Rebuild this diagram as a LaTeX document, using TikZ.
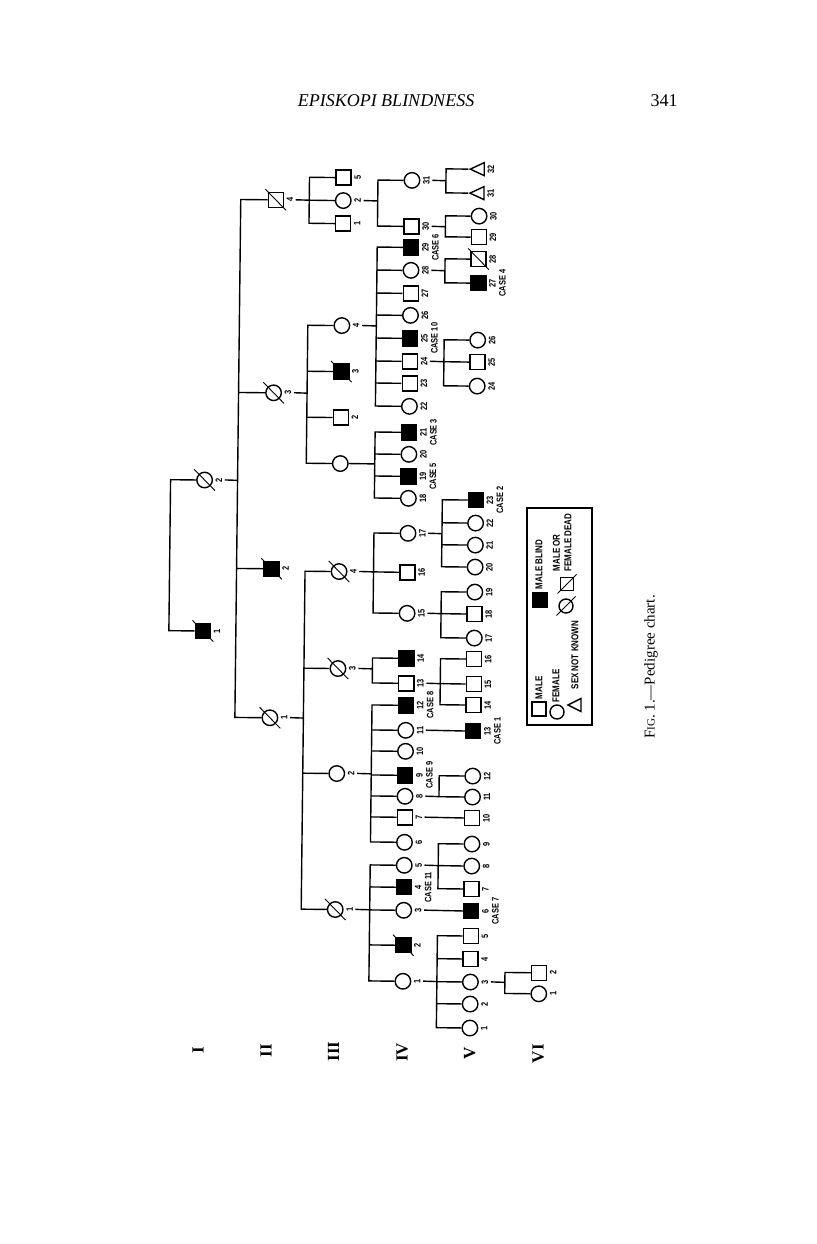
\documentclass[tikz,border=0pt]{standalone}
\usepackage{fontspec}
\setmainfont{Liberation Serif}
\newfontfamily\lblfont[FakeStretch=0.8]{Liberation Sans}
\usetikzlibrary{shapes.geometric, positioning, calc}

\begin{document}
\begin{tikzpicture}[
    x=1pt, y=-1pt,
    line width=1.4pt,
    person/.style={draw, inner sep=0pt, line width=1.4pt},
    male/.style={person, rectangle, minimum size=15pt},
    female/.style={person, circle, minimum size=15.5pt},
    blind/.style={male, fill=black},
    unknown/.style={person, isosceles triangle, isosceles triangle stretches,
        shape border rotate=180, minimum width=13pt, minimum height=14pt},
    slashline/.style={line width=0.9pt},
    dead/.style={append after command={
        ($(\tikzlastnode.center)+(-#1,-#1)$) edge[slashline] ($(\tikzlastnode.center)+(#1,#1)$)}},
    dead/.default=10.5,
    deadleg/.style={append after command={
        ($(\tikzlastnode.center)+(-#1,#1)$) edge[slashline] ($(\tikzlastnode.center)+(#1,-#1)$)}},
    deadleg/.default=10,
    num/.style={rotate=90, anchor=north, inner sep=2pt, align=center,
        font=\lblfont\bfseries\fontsize{9.3}{10}\selectfont},
    gen/.style={rotate=90, font=\bfseries\fontsize{17}{17}\selectfont},
    legtext/.style={rotate=90, anchor=mid west, inner sep=0pt, align=left,
        font=\lblfont\bfseries\fontsize{10}{11.5}\selectfont}
]
\useasboundingbox (0,0) rectangle (816,1244);

% page header
\node[font=\itshape\fontsize{18}{20}\selectfont] (title) at (386,101) {EPISKOPI BLINDNESS};
\node[font=\fontsize{18}{20}\selectfont] (pageno) at (664,101) {341};

\begin{scope}[rotate around={-0.65:(380,180)}]

% generation numerals
\node[gen] (gI)   at (208,1052)   {I};
\node[gen] (gII)  at (276,1052)   {II};
\node[gen] (gIII) at (343.5,1052) {III};
\node[gen] (gIV)  at (412,1052)   {IV};
\node[gen] (gV)   at (479.5,1052) {V};
\node[gen] (gVI)  at (548,1052)   {VI};

% generation I
\node[female, dead] (i2) at (208,482) {};
\node[num] (ni2) at (i2.east) {2};
\node[blind, dead] (i1) at (208,633) {};
\node[num] (ni1) at (i1.east) {1};
\coordinate (m-i) at (174,557);
\draw (i2.west) -| (m-i) |- (i1.west);

% generation II
\node[male, dead] (ii4) at (276,201) {};
\node[num] (nii4) at (ii4.east) {4};
\node[female, dead] (ii3) at (276,394) {};
\node[num] (nii3) at (ii3.east) {3};
\node[blind, dead] (ii2) at (276,570) {};
\node[num] (nii2) at (ii2.east) {2};
\node[female, dead] (ii1) at (276,719) {};
\node[num] (nii1) at (ii1.east) {1};
\coordinate (s-i2) at (241,482);
\draw (ni2.south) -- (s-i2);
\draw (ii4.west) -| (s-i2) |- (ii1.west);
\foreach \k in {ii3,ii2} \draw (\k.west) -- (\k.west -| s-i2);

% generation III
\node[male] (iiia5) at (343.5,178) {};
\node[num] (niiia5) at (iiia5.east) {5};
\node[female] (iiia2) at (343.5,201) {};
\node[num] (niiia2) at (iiia2.east) {2};
\node[male] (iiia1) at (343.5,224) {};
\node[num] (niiia1) at (iiia1.east) {1};
\coordinate (s-ii4) at (309.5,201);
\draw (nii4.south) -- (s-ii4);
\draw (iiia5.west) -| (s-ii4) |- (iiia1.west);
\draw (iiia2.west) -- (s-ii4);

\node[female] (iiib4) at (343.5,326) {};
\node[num] (niiib4) at (iiib4.east) {4};
\node[blind, dead] (iiib3) at (343.5,372) {};
\node[num] (niiib3) at (iiib3.east) {3};
\node[male] (iiib2) at (343.5,418) {};
\node[num] (niiib2) at (iiib2.east) {2};
\node[female] (iiib0) at (343.5,464) {};
\coordinate (s-ii3) at (309.5,394);
\draw (nii3.south) -- (s-ii3);
\draw (iiib4.west) -| (s-ii3) |- (iiib0.west);
\foreach \k in {iiib3,iiib2} \draw (\k.west) -- (\k.west -| s-ii3);

\node[female, dead] (iiic4) at (343.5,572) {};
\node[num] (niiic4) at (iiic4.east) {4};
\node[female, dead] (iiic3) at (343.5,669) {};
\node[num] (niiic3) at (iiic3.east) {3};
\node[female] (iiic2) at (343.5,774) {};
\node[num] (niiic2) at (iiic2.east) {2};
\node[female, dead] (iiic1) at (343.5,910) {};
\node[num] (niiic1) at (iiic1.east) {1};
\coordinate (s-ii1) at (309.5,719);
\draw (nii1.south) -- (s-ii1);
\draw (iiic4.west) -| (s-ii1) |- (iiic1.west);
\foreach \k in {iiic3,iiic2} \draw (\k.west) -- (\k.west -| s-ii1);

% generation IV
\node[female] (iv31) at (412,180) {};
\node[num] (niv31) at (iv31.east) {31};
\node[male] (iv30) at (412,226) {};
\node[num] (niv30) at (iv30.east) {30};
\coordinate (s-iiia2) at (378,201);
\draw (niiia2.south) -- (s-iiia2);
\draw (iv31.west) -| (s-iiia2) |- (iv30.west);

\node[blind] (iv29) at (412,247) {};
\node[num] (niv29) at (iv29.east) {29\\CASE 6};
\node[female] (iv28) at (412,270) {};
\node[num] (niv28) at (iv28.east) {28};
\node[male] (iv27) at (412,293) {};
\node[num] (niv27) at (iv27.east) {27};
\node[female] (iv26) at (412,315) {};
\node[num] (niv26) at (iv26.east) {26};
\node[blind] (iv25) at (412,338) {};
\node[num] (niv25) at (iv25.east) {25\\CASE 10};
\node[male] (iv24) at (412,361) {};
\node[num] (niv24) at (iv24.east) {24};
\node[male] (iv23) at (412,383) {};
\node[num] (niv23) at (iv23.east) {23};
\node[female] (iv22) at (412,406) {};
\node[num] (niv22) at (iv22.east) {22};
\coordinate (s-iiib4) at (378,326);
\draw (niiib4.south) -- (s-iiib4);
\draw (iv29.west) -| (s-iiib4) |- (iv22.west);
\foreach \k in {iv28,iv27,iv26,iv25,iv24,iv23} \draw (\k.west) -- (\k.west -| s-iiib4);

\node[blind] (iv21) at (412,432) {};
\node[num] (niv21) at (iv21.east) {21\\CASE 3};
\node[female] (iv20) at (412,454) {};
\node[num] (niv20) at (iv20.east) {20};
\node[blind] (iv19) at (412,476) {};
\node[num] (niv19) at (iv19.east) {19\\CASE 5};
\node[female] (iv18) at (412,498) {};
\node[num] (niv18) at (iv18.east) {18};
\coordinate (s-iiib0) at (378,464);
\draw (iiib0.east) -- (s-iiib0);
\draw (iv21.west) -| (s-iiib0) |- (iv18.west);
\foreach \k in {iv20,iv19} \draw (\k.west) -- (\k.west -| s-iiib0);

\node[female] (iv17) at (412,533) {};
\node[num] (niv17) at (iv17.east) {17};
\node[male] (iv16) at (412,572) {};
\node[num] (niv16) at (iv16.east) {16};
\node[female] (iv15) at (412,613) {};
\node[num] (niv15) at (iv15.east) {15};
\coordinate (s-iiic4) at (378,572);
\draw (niiic4.south) -- (s-iiic4);
\draw (iv17.west) -| (s-iiic4) |- (iv15.west);
\draw (iv16.west) -- (s-iiic4);

\node[blind] (iv14) at (412,658) {};
\node[num] (niv14) at (iv14.east) {14};
\node[male] (iv13) at (412,683) {};
\node[num] (niv13) at (iv13.east) {13};
\coordinate (s-iiic3) at (378,669);
\draw (niiic3.south) -- (s-iiic3);
\draw (iv14.west) -| (s-iiic3) |- (iv13.west);

\node[blind] (iv12) at (412,705) {};
\node[num] (niv12) at (iv12.east) {12\\CASE 8};
\node[female] (iv11) at (412,730) {};
\node[num] (niv11) at (iv11.east) {11};
\node[female] (iv10) at (412,751) {};
\node[num] (niv10) at (iv10.east) {10};
\node[blind] (iv9) at (412,775) {};
\node[num] (niv9) at (iv9.east) {9\\CASE 9};
\node[female] (iv8) at (412,796) {};
\node[num] (niv8) at (iv8.east) {8};
\node[male] (iv7) at (412,817) {};
\node[num] (niv7) at (iv7.east) {7};
\node[female] (iv6) at (412,842) {};
\node[num] (niv6) at (iv6.east) {6};
\coordinate (s-iiic2) at (378,774);
\draw (niiic2.south) -- (s-iiic2);
\draw (iv12.west) -| (s-iiic2) |- (iv6.west);
\foreach \k in {iv11,iv10,iv9,iv8,iv7} \draw (\k.west) -- (\k.west -| s-iiic2);

\node[female] (iv5) at (412,865) {};
\node[num] (niv5) at (iv5.east) {5};
\node[blind] (iv4) at (412,887) {};
\node[num] (niv4) at (iv4.east) {4\\CASE 11};
\node[female] (iv3) at (412,910) {};
\node[num] (niv3) at (iv3.east) {3};
\node[blind, dead] (iv2) at (412,945) {};
\node[num] (niv2) at (iv2.east) {2};
\node[female] (iv1) at (412,981) {};
\node[num] (niv1) at (iv1.east) {1};
\coordinate (s-iiic1) at (378,910);
\draw (niiic1.south) -- (s-iiic1);
\draw (iv5.west) -| (s-iiic1) |- (iv1.west);
\foreach \k in {iv4,iv3,iv2} \draw (\k.west) -- (\k.west -| s-iiic1);

% generation V
\node[unknown] (v32) at (480,168) {};
\node[num] (nv32) at (v32.lower side) {32};
\node[unknown] (v31) at (480,192) {};
\node[num] (nv31) at (v31.lower side) {31};
\coordinate (s-iv31) at (446,180);
\draw (niv31.south) -- (s-iv31);
\draw (v32.apex) -| (s-iv31) |- (v31.apex);

\node[female] (v30) at (479.5,215) {};
\node[num] (nv30) at (v30.east) {30};
\node[male] (v29) at (479.5,236) {};
\node[num] (nv29) at (v29.east) {29};
\coordinate (s-iv30) at (446,226);
\draw (niv30.south) -- (s-iv30);
\draw (v30.west) -| (s-iv30) |- (v29.west);

\node[male, dead] (v28) at (479.5,258) {};
\node[num] (nv28) at (v28.east) {28};
\node[blind] (v27) at (479.5,282) {};
\node[num] (nv27) at (v27.east) {27\\CASE 4};
\coordinate (s-iv28) at (446,270);
\draw (niv28.south) -- (s-iv28);
\draw (v28.west) -| (s-iv28) |- (v27.west);

\node[female] (v26) at (479.5,339) {};
\node[num] (nv26) at (v26.east) {26};
\node[male] (v25) at (479.5,361) {};
\node[num] (nv25) at (v25.east) {25};
\node[female] (v24) at (479.5,385) {};
\node[num] (nv24) at (v24.east) {24};
\coordinate (s-iv24) at (446,361);
\draw (niv24.south) -- (s-iv24);
\draw (v26.west) -| (s-iv24) |- (v24.west);
\draw (v25.west) -- (s-iv24);

\node[blind] (v23) at (479.5,499) {};
\node[num] (nv23) at (v23.east) {23\\CASE 2};
\node[female] (v22) at (479.5,522) {};
\node[num] (nv22) at (v22.east) {22};
\node[female] (v21) at (479.5,544) {};
\node[num] (nv21) at (v21.east) {21};
\node[female] (v20) at (479.5,566) {};
\node[num] (nv20) at (v20.east) {20};
\coordinate (s-iv17) at (446,533);
\draw (niv17.south) -- (s-iv17);
\draw (v23.west) -| (s-iv17) |- (v20.west);
\foreach \k in {v22,v21} \draw (\k.west) -- (\k.west -| s-iv17);

\node[female] (v19) at (479.5,591) {};
\node[num] (nv19) at (v19.east) {19};
\node[male] (v18) at (479.5,613) {};
\node[num] (nv18) at (v18.east) {18};
\node[female] (v17) at (479.5,637) {};
\node[num] (nv17) at (v17.east) {17};
\coordinate (s-iv15) at (446,613);
\draw (niv15.south) -- (s-iv15);
\draw (v19.west) -| (s-iv15) |- (v17.west);
\draw (v18.west) -- (s-iv15);

\node[male] (v16) at (479.5,658) {};
\node[num] (nv16) at (v16.east) {16};
\node[male] (v15) at (479.5,683) {};
\node[num] (nv15) at (v15.east) {15};
\node[male] (v14) at (479.5,704) {};
\node[num] (nv14) at (v14.east) {14};
\coordinate (s-iv13) at (446,683);
\draw (niv13.south) -- (s-iv13);
\draw (v16.west) -| (s-iv13) |- (v14.west);
\draw (v15.west) -- (s-iv13);

\node[blind] (v13) at (479.5,730) {};
\node[num] (nv13) at (v13.east) {13\\CASE 1};
\draw (niv11.south) -- (v13.west);

\node[female] (v12) at (479.5,775) {};
\node[num] (nv12) at (v12.east) {12};
\node[female] (v11) at (479.5,796) {};
\node[num] (nv11) at (v11.east) {11};
\coordinate (s-iv8) at (446,796);
\draw (niv8.south) -- (s-iv8);
\draw (v12.west) -| (s-iv8) |- (v11.west);

\node[male] (v10) at (479.5,817) {};
\node[num] (nv10) at (v10.east) {10};
\draw (niv7.south) -- (v10.west);

\node[female] (v9) at (479.5,843) {};
\node[num] (nv9) at (v9.east) {9};
\node[female] (v8) at (479.5,865) {};
\node[num] (nv8) at (v8.east) {8};
\node[male] (v7) at (479.5,888) {};
\node[num] (nv7) at (v7.east) {7};
\coordinate (s-iv5) at (446,865);
\draw (niv5.south) -- (s-iv5);
\draw (v9.west) -| (s-iv5) |- (v7.west);
\draw (v8.west) -- (s-iv5);

\node[blind] (v6) at (479.5,910) {};
\node[num] (nv6) at (v6.east) {6\\CASE 7};
\draw (niv3.south) -- (v6.west);

\node[male] (v5) at (479.5,935) {};
\node[num] (nv5) at (v5.east) {5};
\node[male] (v4) at (479.5,958) {};
\node[num] (nv4) at (v4.east) {4};
\node[female] (v3) at (479.5,981) {};
\node[num] (nv3) at (v3.east) {3};
\node[female] (v2) at (479.5,1003) {};
\node[num] (nv2) at (v2.east) {2};
\node[female] (v1) at (479.5,1027) {};
\node[num] (nv1) at (v1.east) {1};
\coordinate (s-iv1) at (446,981);
\draw (niv1.south) -- (s-iv1);
\draw (v5.west) -| (s-iv1) |- (v1.west);
\foreach \k in {v4,v3,v2} \draw (\k.west) -- (\k.west -| s-iv1);

% generation VI
\node[male] (vi2) at (548,971) {};
\node[num] (nvi2) at (vi2.east) {2};
\node[female] (vi1) at (548,992) {};
\node[num] (nvi1) at (vi1.east) {1};
\coordinate (s-v3) at (514,981);
\draw (nv3.south) -- (s-v3);
\draw (vi2.west) -| (s-v3) |- (vi1.west);

\end{scope}

% key
\node[draw, minimum width=65pt, minimum height=217pt, inner sep=0pt] (key) at (559.5,616.5) {};
\node[male, minimum size=14pt] (k-male) at (539,709) {};
\node[legtext] (kt-male) at (540,700) {MALE};
\node[female, minimum size=14pt] (k-female) at (557,712) {};
\node[legtext] (kt-female) at (557,703) {FEMALE};
\node[unknown, minimum width=13pt, minimum height=13pt] (k-unknown) at (577,705) {};
\node[legtext] (kt-unknown) at (576,690) {SEX NOT KNOWN};
\node[blind, minimum size=14pt] (k-blind) at (540,600) {};
\node[legtext] (kt-blind) at (540,590) {MALE BLIND};
\node[female, deadleg=9.5, minimum size=14pt] (k-deadf) at (566,606) {};
\node[male, deadleg=9.5, minimum size=13.5pt] (k-deadm) at (567,584) {};
\node[legtext] (kt-dead) at (569,572) {MALE OR\\FEMALE DEAD};

% caption
\node[rotate=90, font=\fontsize{15}{16}\selectfont] (caption) at (651,667)
  {F{\fontsize{11}{12}\selectfont IG}. 1.—Pedigree chart.};

\end{tikzpicture}
\end{document}
